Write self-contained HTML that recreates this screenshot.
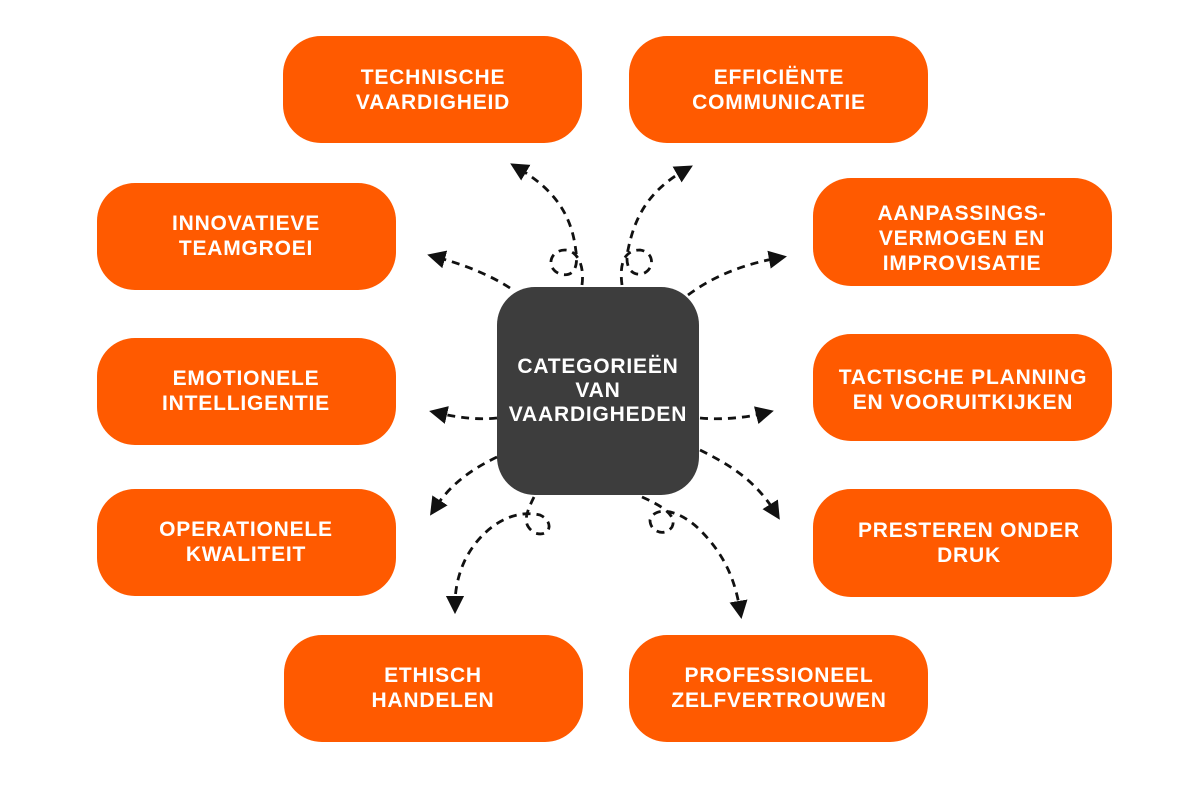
<!DOCTYPE html>
<html><head><meta charset="utf-8"><style>
body{margin:0;background:#fff;width:1200px;height:800px;overflow:hidden}
svg{display:block}
text{font-family:"Liberation Sans",sans-serif;font-weight:bold;font-size:21px;letter-spacing:0.8px;fill:#fff;text-anchor:middle}
.a{fill:none;stroke:#111;stroke-width:2.8;stroke-dasharray:8 6}
</style></head><body>
<svg width="1200" height="800" viewBox="0 0 1200 800">
<defs><marker id="m" viewBox="0 0 10 10" refX="5" refY="5" markerWidth="6.5" markerHeight="6.5" orient="auto"><path d="M0,0 L10,5 L0,10 z" fill="#111"/></marker></defs>
<g fill="#FF5A00">
<rect x="283" y="36" width="299" height="107" rx="38"/>
<rect x="629" y="36" width="299" height="107" rx="38"/>
<rect x="97" y="183" width="299" height="107" rx="38"/>
<rect x="813" y="178" width="299" height="108" rx="38"/>
<rect x="97" y="338" width="299" height="107" rx="38"/>
<rect x="813" y="334" width="299" height="107" rx="38"/>
<rect x="97" y="489" width="299" height="107" rx="38"/>
<rect x="813" y="489" width="299" height="108" rx="38"/>
<rect x="284" y="635" width="299" height="107" rx="38"/>
<rect x="629" y="635" width="299" height="107" rx="38"/>
</g>
<rect x="497" y="287" width="202" height="208" rx="38" fill="#3d3d3d"/>
<text x="598" y="373">CATEGORIEËN</text><text x="598" y="397">VAN</text><text x="598" y="421">VAARDIGHEDEN</text>
<text x="433" y="84">TECHNISCHE</text><text x="433" y="109">VAARDIGHEID</text>
<text x="779" y="84">EFFICIËNTE</text><text x="779" y="109">COMMUNICATIE</text>
<text x="246" y="230">INNOVATIEVE</text><text x="246" y="255">TEAMGROEI</text>
<text x="962" y="220">AANPASSINGS-</text><text x="962" y="245">VERMOGEN EN</text><text x="962" y="270">IMPROVISATIE</text>
<text x="246" y="385">EMOTIONELE</text><text x="246" y="410">INTELLIGENTIE</text>
<text x="963" y="384">TACTISCHE PLANNING</text><text x="963" y="409">EN VOORUITKIJKEN</text>
<text x="246" y="536">OPERATIONELE</text><text x="246" y="561">KWALITEIT</text>
<text x="969" y="537">PRESTEREN ONDER</text><text x="969" y="562">DRUK</text>
<text x="433" y="682">ETHISCH</text><text x="433" y="707">HANDELEN</text>
<text x="779" y="682">PROFESSIONEEL</text><text x="779" y="707">ZELFVERTROUWEN</text>
<g class="a">
<path d="M582,285 C585,262 575,250 565,250 C550,250 545,268 560,274 C575,278 578,265 576,252 C572,215 555,190 518,168" marker-end="url(#m)"/>
<path d="M622,285 C619,262 625,250 640,250 C655,252 655,270 642,274 C628,276 625,262 628,250 C635,215 650,190 685,170" marker-end="url(#m)"/>
<path d="M510,288 C490,275 465,265 436,257" marker-end="url(#m)"/>
<path d="M688,295 C715,275 745,264 778,258" marker-end="url(#m)"/>
<path d="M497,418 C480,420 460,418 438,413" marker-end="url(#m)"/>
<path d="M700,418 C720,420 745,418 765,413" marker-end="url(#m)"/>
<path d="M497,457 C470,470 450,485 435,508" marker-end="url(#m)"/>
<path d="M700,450 C730,465 755,480 775,512" marker-end="url(#m)"/>
<path d="M534,497 C525,515 522,525 535,533 C550,538 555,522 540,515 C510,508 480,530 465,560 C458,575 455,590 455,605" marker-end="url(#m)"/>
<path d="M642,497 C660,505 678,515 672,527 C665,537 650,532 650,520 C655,505 680,510 700,530 C725,555 735,580 740,610" marker-end="url(#m)"/>
</g>
</svg>
</body></html>
